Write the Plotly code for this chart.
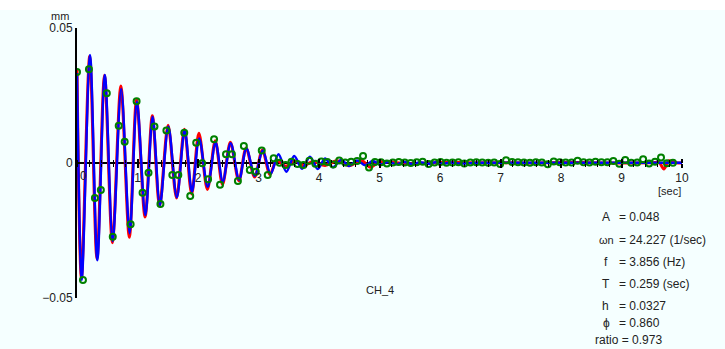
import plotly.graph_objects as go
import numpy as np

# ---- fitted curve (blue): extrema ----
fit_t = [0.0, 0.078, 0.215, 0.336, 0.46, 0.59, 0.73, 0.87, 0.99, 1.13,
         1.25, 1.37, 1.51, 1.65, 1.78, 1.90, 2.02, 2.16, 2.29, 2.41,
         2.54, 2.68, 2.80, 2.94, 3.07, 3.20, 3.33, 3.46, 3.59, 3.72,
         3.85, 3.98, 4.10, 4.23, 4.37, 4.49, 4.63, 4.76, 4.89, 5.02,
         5.15, 5.28, 5.41, 5.54, 5.67, 5.80, 5.93, 6.06, 6.19, 6.32,
         6.6, 7.0, 7.5, 8.0, 8.5, 9.0, 9.5, 10.0]
fit_v = [0.0333, -0.0433, 0.0400, -0.0360, 0.0326, -0.0290, 0.0274, -0.0260, 0.0227, -0.0193,
         0.0171, -0.0156, 0.0135, -0.0127, 0.0122, -0.0106, 0.0091, -0.0088, 0.0076, -0.0069,
         0.0073, -0.0062, 0.0054, -0.0048, 0.0046, -0.0040, 0.0032, -0.0032, 0.0026, -0.0021,
         0.0023, -0.0022, 0.0017, -0.0016, 0.0012, -0.0011, 0.0009, -0.0008, 0.0007, -0.0006,
         0.0005, -0.0005, 0.0004, -0.0004, 0.0003, -0.0003, 0.0003, -0.0002, 0.0002, -0.0002,
         0.0001, 0.0001, 0.0001, 0.0001, 0.0001, 0.0001, 0.0001, 0.0001]

meas_t = [0.0, 0.073, 0.21, 0.33, 0.455, 0.585, 0.725, 0.865, 0.985, 1.125,
          1.245, 1.365, 1.505, 1.645, 1.775, 1.895, 2.015, 2.155, 2.285, 2.405,
          2.535, 2.675, 2.795, 2.935, 3.065, 3.19, 3.30, 3.45, 3.6, 3.75,
          3.9, 4.1, 4.3, 4.5, 4.7, 4.85, 5.0, 5.5, 6.0, 6.5, 7.0, 7.5, 8.0,
          8.5, 9.0, 9.5, 9.62, 9.7, 9.78, 9.9, 10.0]
meas_v = [0.0345, -0.0425, 0.0395, -0.0355, 0.0325, -0.0295, 0.0285, -0.0275, 0.0235, -0.0200,
          0.0175, -0.0160, 0.0140, -0.0130, 0.0125, -0.0115, 0.0110, -0.0098, 0.0082, -0.0080,
          0.0077, -0.0066, 0.0056, -0.0052, 0.0048, -0.0043, 0.0010, -0.0012, 0.0008, -0.0010,
          0.0006, -0.0009, 0.0008, -0.0010, 0.0009, -0.0016, 0.0004, -0.0003, 0.0002, 0.0001,
          0.0001, 0.0000, 0.0002, 0.0001, 0.0000, 0.0001, 0.0002, -0.0022, 0.0008, 0.0001, 0.0000]

# ---- sampled points (green circles), one every ~0.0985 s ----
samp_v = [0.0337, -0.0433, 0.0347, -0.0130, -0.0100, 0.0258, -0.0273, 0.0138, 0.0079, -0.0227,
          0.0229, -0.0110, -0.0036, 0.0135, -0.0152, 0.0120, -0.0044, -0.0044, 0.0112, -0.0122,
          0.0075, -0.0001, -0.0060, 0.0088, -0.0081, 0.0032, 0.0032, -0.0067, 0.0063, -0.0026,
          -0.0032, 0.0046, -0.0044, 0.0018, 0.0001, -0.0007, 0.0005, -0.0004, -0.0007, 0.0008,
          -0.0003, 0.0006, 0.0004, -0.0006, 0.0009, 0.0002, 0.0005, 0.0007, 0.0026, -0.0017,
          0.0004, 0.0003, -0.0002, 0.0002, 0.0004, 0.0002, 0.0000, 0.0003, 0.0005, -0.0004,
          0.0002, 0.0004, 0.0001, 0.0002, 0.0003, -0.0002, 0.0002, 0.0003, 0.0002, 0.0001,
          0.0002, -0.0004, 0.0010, 0.0004, 0.0003, 0.0002, 0.0001, 0.0003, 0.0002, -0.0005,
          0.0006, 0.0003, 0.0002, 0.0002, 0.0008, 0.0003, 0.0002, 0.0005, 0.0003, 0.0003,
          0.0007, -0.0003, 0.0011, 0.0001, 0.0002, 0.0014, -0.0002, 0.0005, 0.0020, -0.0001,
          0.0001]
samp_dt = 0.0985
samp_t = [i * samp_dt for i in range(len(samp_v))]

x_ticks = [1, 2, 3, 4, 5, 6, 7, 8, 9, 10]
y_ticks = [-0.05, 0, 0.05]
y_ticktext = ["\u22120.05", "0", "0.05"]

params = [("A", "= 0.048"), ("\u03c9n", "= 24.227 (1/sec)"), ("f", "= 3.856 (Hz)"),
          ("T", "= 0.259 (sec)"), ("h", "= 0.0327"), ("\u03d5", "= 0.860")]
ratio_text = "ratio = 0.973"
channel = "CH_4"

W, H = 725, 349
L, R, T, B = 77, 43, 28, 51
PW, PH = W - L - R, H - T - B

def px(x):
    return (x - L) / PW

def py(y):
    return (T + PH - y) / PH

BG = "#F5FFFF"
FONT = "Liberation Sans, Arial, sans-serif"
TXT = "#222222"

fig = go.Figure()
fig.add_trace(go.Scatter(x=meas_t, y=meas_v, mode="lines",
                         line=dict(color="#FF0000", width=3, shape="spline", smoothing=0.9),
                         hoverinfo="skip", showlegend=False))
fig.add_trace(go.Scatter(x=fit_t, y=fit_v, mode="lines",
                         line=dict(color="#0000FF", width=2.5, shape="spline", smoothing=0.9),
                         hoverinfo="skip", showlegend=False))
fig.add_trace(go.Scatter(x=samp_t, y=samp_v, mode="markers",
                         marker=dict(symbol="circle-open", size=6, color="#008000",
                                     line=dict(width=2, color="#008000")),
                         hoverinfo="skip", showlegend=False))
# invisible trace for the upward ticks axis
fig.add_trace(go.Scatter(x=[0, 10], y=[0, 0], xaxis="x2", mode="lines",
                         line=dict(width=0), opacity=0, hoverinfo="skip", showlegend=False))

fig.update_layout(
    width=W, height=H,
    margin=dict(l=L, r=R, t=T, b=B, pad=0),
    paper_bgcolor=BG, plot_bgcolor=BG,
    font=dict(family=FONT, size=12, color=TXT),
    xaxis=dict(range=[0, 10], anchor="free", position=0.5, showline=False, showgrid=False,
               zeroline=False, tickvals=x_ticks, ticks="outside", ticklen=4, tickwidth=2,
               tickcolor="black", tickfont=dict(size=12, color=TXT),
               minor=dict(dtick=0.2, tick0=0, ticks="outside", ticklen=3, tickwidth=1,
                          tickcolor="black")),
    xaxis2=dict(range=[0, 10], overlaying="x", anchor="free", position=0.5, side="top",
                showline=False, showgrid=False, zeroline=False, tickvals=x_ticks,
                showticklabels=False, ticks="outside", ticklen=4, tickwidth=2, tickcolor="black",
                minor=dict(dtick=0.2, tick0=0, ticks="outside", ticklen=3, tickwidth=1,
                           tickcolor="black")),
    yaxis=dict(range=[-0.05, 0.05], showline=True, linecolor="black", linewidth=2,
               showgrid=False, zeroline=True, zerolinecolor="black", zerolinewidth=2,
               tickvals=y_ticks, ticktext=y_ticktext, ticks="inside", ticklen=5, tickwidth=2,
               tickcolor="black", tickfont=dict(size=12, color=TXT)),
    shapes=[dict(type="rect", xref="paper", yref="paper", x0=px(0), x1=px(W),
                 y0=py(10), y1=py(0), fillcolor="white", line=dict(width=0), layer="below")],
)

ann = []
ann.append(dict(x=0.1, y=0, xref="x", yref="y", text="0", showarrow=False,
                yanchor="top", yshift=-4, font=dict(size=12, color=TXT)))
ann.append(dict(x=px(71), y=py(16), xref="paper", yref="paper", text="mm", showarrow=False,
                xanchor="right", yanchor="middle", font=dict(size=11, color=TXT)))
ann.append(dict(x=px(669), y=py(191), xref="paper", yref="paper", text="[sec]", showarrow=False,
                xanchor="center", yanchor="middle", font=dict(size=11, color=TXT)))
ann.append(dict(x=px(380), y=py(290), xref="paper", yref="paper", text=channel, showarrow=False,
                xanchor="center", yanchor="middle", font=dict(size=11, color=TXT)))
line_y = [217, 240, 262, 284, 306, 323]
lab_x = [600, 597, 602, 600, 600, 601]
lab_size = [12, 11, 12, 12, 12, 12]
for (lab, val), yy, xx, ss in zip(params, line_y, lab_x, lab_size):
    ann.append(dict(x=px(xx), y=py(yy), xref="paper", yref="paper", text=lab, showarrow=False,
                    xanchor="left", yanchor="middle", font=dict(size=ss, color=TXT)))
    ann.append(dict(x=px(617), y=py(yy), xref="paper", yref="paper", text=val, showarrow=False,
                    xanchor="left", yanchor="middle", font=dict(size=12, color=TXT)))
ann.append(dict(x=px(593), y=py(340), xref="paper", yref="paper", text=ratio_text, showarrow=False,
                xanchor="left", yanchor="middle", font=dict(size=12, color=TXT)))
fig.update_layout(annotations=ann)

fig.write_html("out.html", config={"displayModeBar": False},
               post_script="document.body.style.margin='0';document.body.style.padding='0';")
